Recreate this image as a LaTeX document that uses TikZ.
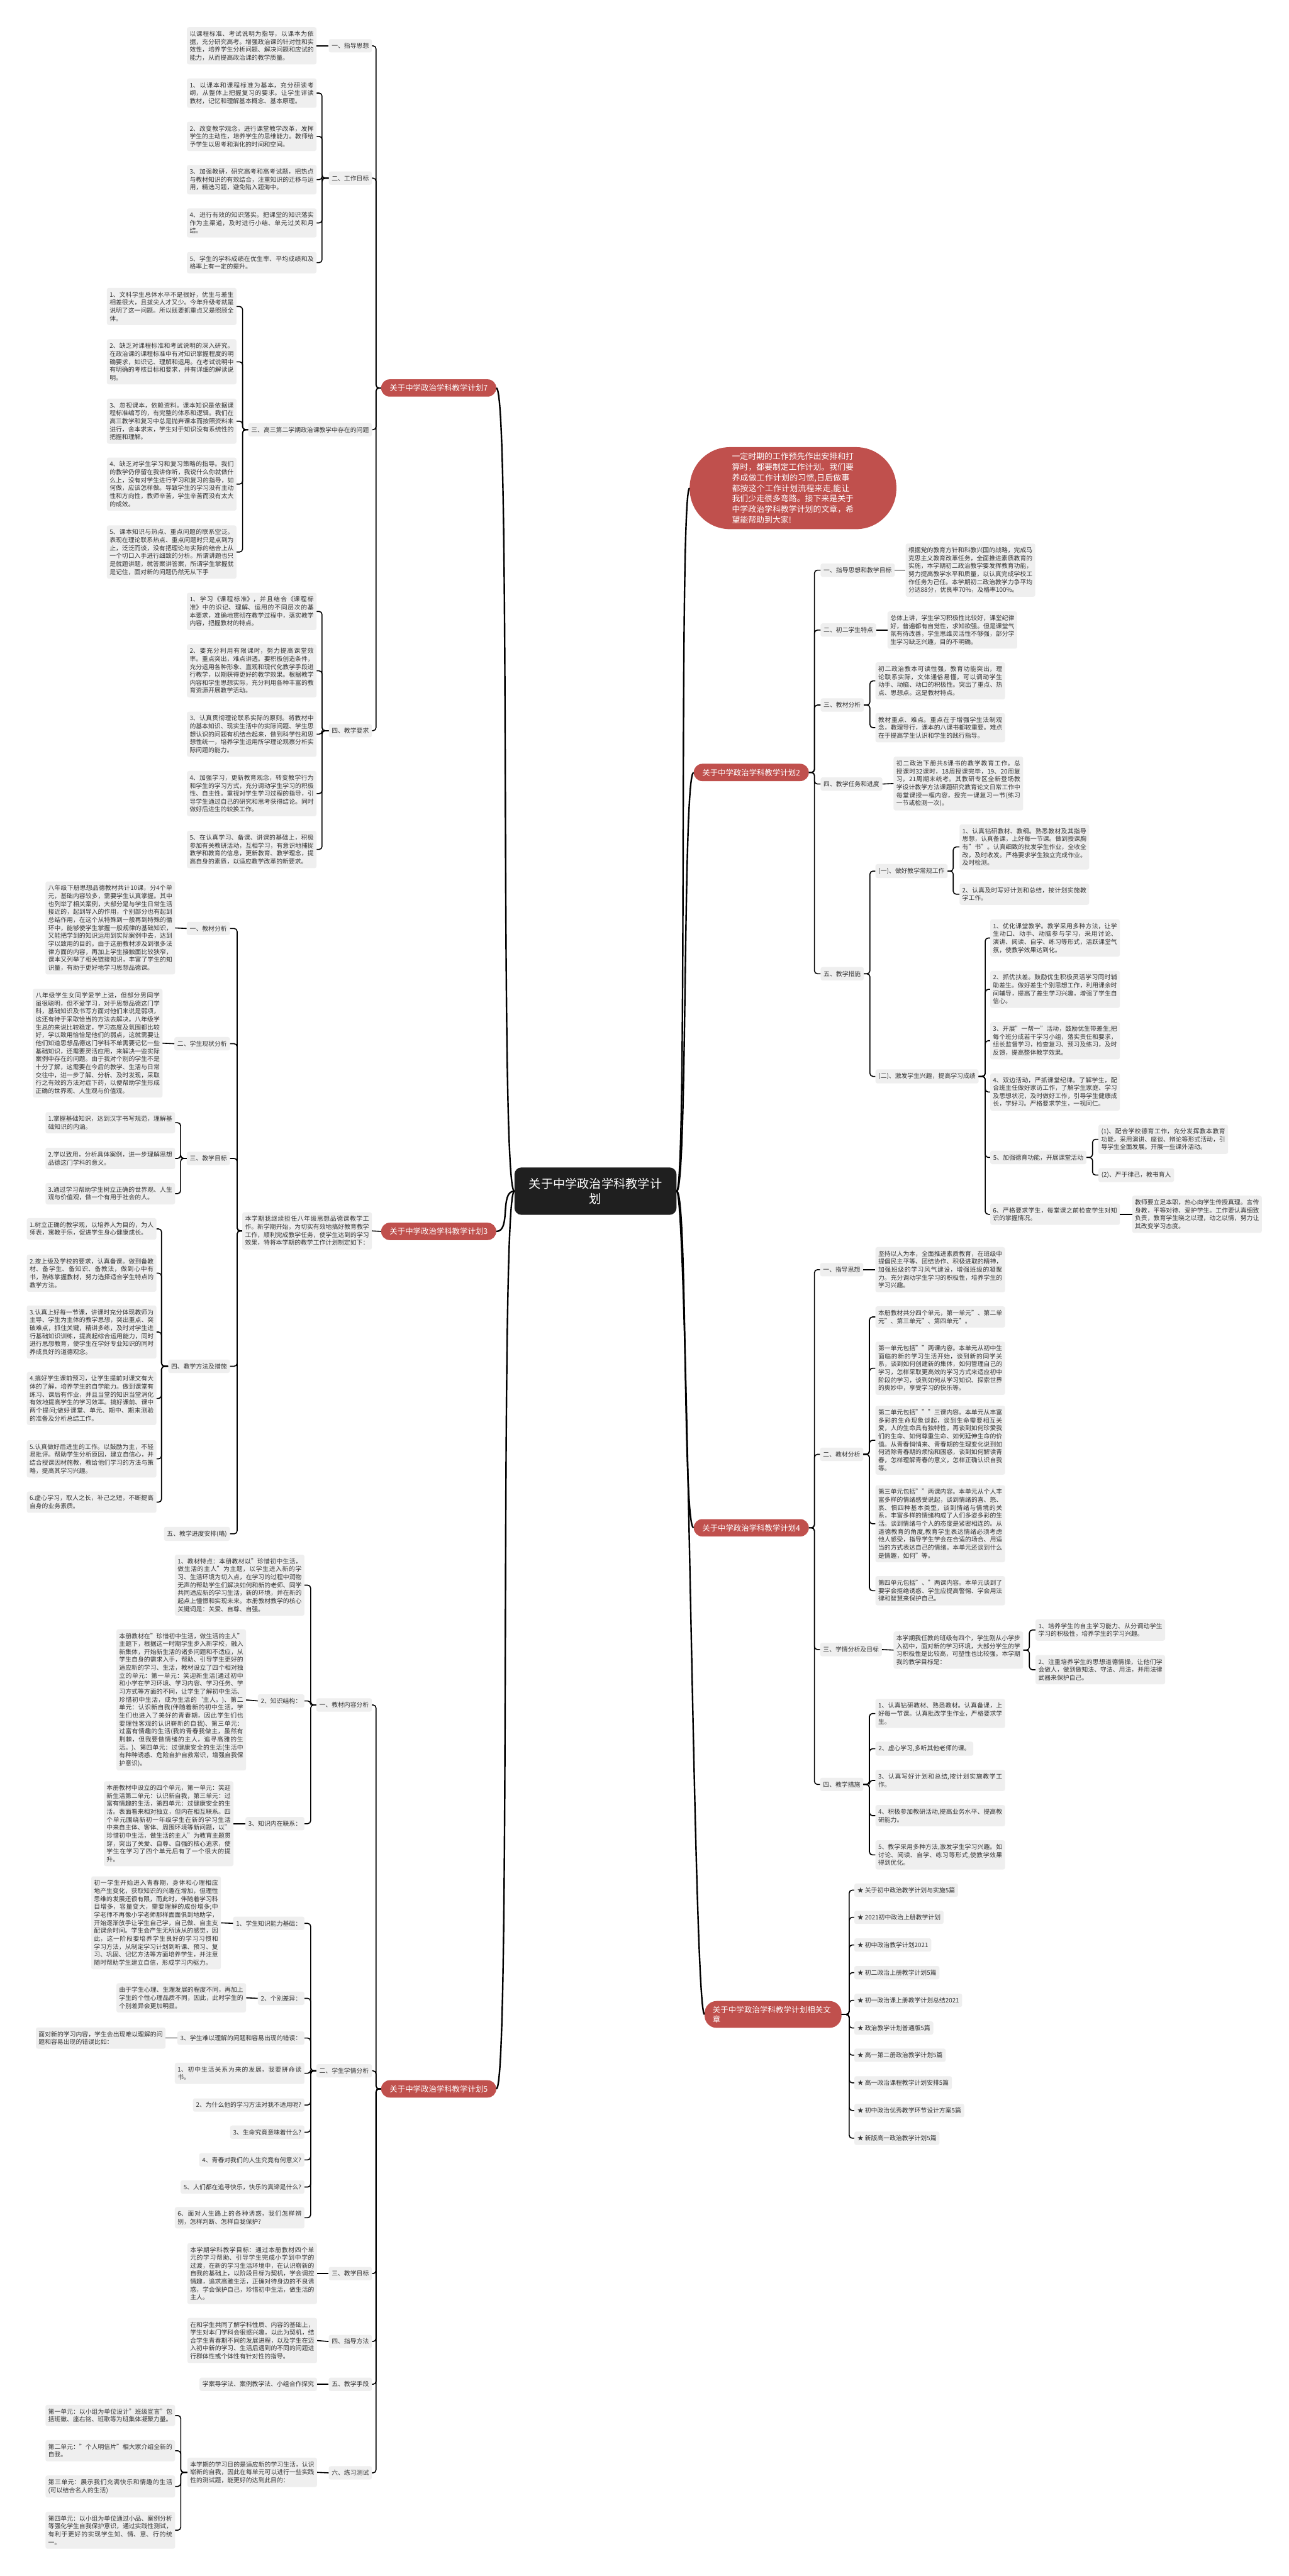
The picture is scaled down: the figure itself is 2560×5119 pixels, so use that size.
\documentclass[tikz,border=0pt]{standalone}
\usepackage{fontspec}
\setmainfont{Noto Sans CJK SC}
\XeTeXlinebreaklocale "zh"
\XeTeXlinebreakskip = 0pt plus 1pt
\definecolor{branchred}{HTML}{C0504D}
\definecolor{nodegray}{HTML}{EFEFEF}
\definecolor{inkgray}{HTML}{333333}
\definecolor{rootblack}{HTML}{1F1F1F}
\newcommand\boxfont{\fontsize{12.3}{15.8}\selectfont}
\newcommand\branchfont{\fontsize{15.5}{19}\selectfont}
\newcommand\leadfont{\fontsize{16.1}{21}\selectfont}
\newcommand\rootfont{\fontsize{24}{30}\selectfont}
\tikzset{
  sec/.style={fill=nodegray,text=inkgray,rounded corners=4pt,inner xsep=6pt,inner ysep=7.5pt,font=\boxfont},
  para/.style={sec,inner xsep=5.5pt,text width=246.5pt,align=justify},
  branch/.style={fill=branchred,text=white,rounded corners=17pt,inner xsep=17pt,inner ysep=10pt,font=\branchfont},
  link/.style={draw=black,line width=2pt,rounded corners=6pt},
  mainlink/.style={draw=black,line width=3pt},
}

\begin{document}
\begin{tikzpicture}[x=1pt,y=-1pt]
\fill[white] (0,0) rectangle (2560,5119);
\useasboundingbox (0,0) rectangle (2560,5119);

% root and lead
\node[fill=rootblack,text=white,rounded corners=14pt,inner xsep=29pt,inner ysep=21pt,font=\rootfont,align=center] (root) at (1183,2367) {关于中学政治学科教学计\\划};
\node[fill=branchred,text=white,rounded corners=80pt,inner xsep=84pt,inner ysep=11pt,font=\leadfont,text width=242.5pt,align=left,anchor=west] (lead) at (1370,970) {一定时期的工作预先作出安排和打算时，都要制定工作计划。我们要养成做工作计划的习惯,日后做事都按这个工作计划流程来走,能让我们少走很多弯路。接下来是关于中学政治学科教学计划的文章，希望能帮助到大家!};

% branch 7
\node[branch,anchor=west] (b7) at (757,771) {关于中学政治学科教学计划7};
\node[sec,anchor=east] (b7s1) at (739,91) {一、指导思想};
\node[para,anchor=east] (b7s1t) at (629,91) {以课程标准、考试说明为指导，以课本为依据，充分研究高考。增强政治课的针对性和实效性，培养学生分析问题、解决问题和应试的能力，从而提高政治课的教学质量。};
\node[sec,anchor=east] (b7s2) at (739,354) {二、工作目标};
\node[para,anchor=east] (b7s2c1) at (629,185) {1、以课本和课程标准为基本，充分研读考纲，从整体上把握复习的要求。让学生详读教材，记忆和理解基本概念、基本原理。};
\node[para,anchor=east] (b7s2c2) at (629,271) {2、改变教学观念，进行课堂教学改革，发挥学生的主动性，培养学生的思维能力。教师给予学生以思考和消化的时间和空间。};
\node[para,anchor=east] (b7s2c3) at (629,357) {3、加强教研，研究高考和高考试题，把热点与教材知识的有效结合，注重知识的迁移与运用，精选习题，避免陷入题海中。};
\node[para,anchor=east] (b7s2c4) at (629,443) {4、进行有效的知识落实。把课堂的知识落实作为主渠道，及时进行小结、单元过关和月结。};
\node[para,anchor=east] (b7s2c5) at (629,522) {5、学生的学科成绩在优生率、平均成绩和及格率上有一定的提升。};
\node[sec,anchor=east] (b7s3) at (739,854) {三、高三第二学期政治课教学中存在的问题};
\node[para,anchor=east] (b7s3c1) at (470,609) {1、文科学生总体水平不是很好，优生与差生相差很大，且拔尖人才又少。今年升级考就是说明了这一问题。所以既要抓重点又是照顾全体。};
\node[para,anchor=east] (b7s3c2) at (470,719) {2、缺乏对课程标准和考试说明的深入研究。在政治课的课程标准中有对知识掌握程度的明确要求，如识记、理解和运用。在考试说明中有明确的考核目标和要求，并有详细的解读说明。};
\node[para,anchor=east] (b7s3c3) at (470,837) {3、忽视课本，依赖资料。课本知识是依据课程标准编写的，有完整的体系和逻辑。我们在高三教学和复习中总是抛弃课本而按照资料来进行，舍本求末，学生对于知识没有系统性的把握和理解。};
\node[para,anchor=east] (b7s3c4) at (470,962) {4、缺乏对学生学习和复习策略的指导。我们的教学仍停留在我讲你听，我说什么你就做什么上，没有对学生进行学习和复习的指导，如何做，应该怎样做。导致学生的学习没有主动性和方向性，教师辛苦，学生辛苦而没有太大的成效。};
\node[para,anchor=east] (b7s3c5) at (470,1097) {5、课本知识与热点、重点问题的联系空泛。表现在理论联系热点、重点问题时只是点到为止，泛泛而谈，没有把理论与实际的结合上从一个切口入手进行细致的分析。所谓讲题也只是就题讲题，就答案讲答案，所谓学生掌握就是记住，面对新的问题仍然无从下手};
\node[sec,anchor=east] (b7s4) at (739,1452) {四、教学要求};
\node[para,anchor=east] (b7s4c1) at (629,1215) {1、学习《课程标准》，并且结合《课程标准》中的识记、理解、运用的不同层次的基本要求，准确地贯彻在教学过程中，落实教学内容，把握教材的特点。};
\node[para,anchor=east] (b7s4c2) at (629,1333) {2、要充分利用有限课时，努力提高课堂效率。重点突出，难点讲透。要积极创造条件，充分运用各种形象、直观和现代化教学手段进行教学，以期获得更好的教学效果。根据教学内容和学生思想实际，充分利用各种丰富的教育资源开展教学活动。};
\node[para,anchor=east] (b7s4c3) at (629,1459) {3、认真贯彻理论联系实际的原则。将教材中的基本知识、现实生活中的实际问题、学生思想认识的问题有机结合起来，做到科学性和思想性统一，培养学生运用所学理论观察分析实际问题的能力。};
\node[para,anchor=east] (b7s4c4) at (629,1577) {4、加强学习，更新教育观念，转变教学行为和学生的学习方式，充分调动学生学习的积极性、自主性。重视对学生学习过程的指导，引导学生通过自己的研究和思考获得结论。同时做好后进生的较换工作。};
\node[para,anchor=east] (b7s4c5) at (629,1688) {5、在认真学习、备课、讲课的基础上，积极参加有关教研活动，互相学习，有意识地捕捉教学和教育的信息，更新教育、教学理念，提高自身的素质，以适应教学改革的新要求。};

% branch 3
\node[branch,anchor=west] (b3) at (757,2447) {关于中学政治学科教学计划3};
\node[para,anchor=east] (b3lead) at (739,2446) {本学期我继续担任八年级思想品德课教学工作。新学期开始，为切实有效地搞好教育教学工作，顺利完成教学任务，使学生达到的学习效果，特将本学期的教学工作计划制定如下：};
\node[sec,anchor=east] (b3s1) at (457,1845) {一、教材分析};
\node[para,anchor=east] (b3s1t) at (348,1844) {八年级下册思想品德教材共计10课，分4个单元，基础内容较多，需要学生认真掌握。其中也列举了相关案例，大部分是与学生日常生活接近的，起到导入的作用，个别部分也有起到总结作用，在这个从特殊到一般再到特殊的循环中，能够使学生掌握一般规律的基础知识，又能把学到的知识运用到实际案例中去，达到学以致用的目的。由于这册教材涉及到很多法律方面的内容，再加上学生接触面比较狭窄，课本又列举了相关链接知识，丰富了学生的知识量，有助于更好地学习思想品德课。};
\node[sec,anchor=east] (b3s2) at (457,2074) {二、学生现状分析};
\node[para,anchor=east] (b3s2t) at (323,2073) {八年级学生女同学爱学上进，但部分男同学虽很聪明，但不爱学习，对于思想品德这门学科，基础知识及书写方面对他们来说是弱项，这还有待于采取恰当的方法去解决。八年级学生总的来说比较稳定，学习态度及氛围都比较好，学以致用恰恰是他们的弱点，这就需要让他们知道思想品德这门学科不单需要记忆一些基础知识，还需要灵活应用，来解决一些实际案例中存在的问题。由于我对个别的学生不是十分了解，这需要在今后的教学、生活与日常交往中，进一步了解、分析、及时发现，采取行之有效的方法对症下药，以便帮助学生形成正确的世界观、人生观与价值观。};
\node[sec,anchor=east] (b3s3) at (457,2302) {三、教学目标};
\node[para,anchor=east] (b3s3c1) at (348,2231) {1.掌握基础知识，达到汉字书写规范，理解基础知识的内涵。};
\node[para,anchor=east] (b3s3c2) at (348,2302) {2.学以致用，分析具体案例，进一步理解思想品德这门学科的意义。};
\node[para,anchor=east] (b3s3c3) at (348,2372) {3.通过学习帮助学生树立正确的世界观、人生观与价值观，做一个有用于社会的人。};
\node[sec,anchor=east] (b3s4) at (457,2715) {四、教学方法及措施};
\node[para,anchor=east] (b3s4c1) at (311,2442) {1.树立正确的教学观，以培养人为目的，为人师表，寓教于乐，促进学生身心健康成长。};
\node[para,anchor=east] (b3s4c2) at (311,2530) {2.按上级及学校的要求，认真备课。做到备教材、备学生、备知识、备教法，做到心中有书，熟练掌握教材，努力选择适合学生特点的教学方法。};
\node[para,anchor=east] (b3s4c3) at (311,2647) {3.认真上好每一节课，讲课时充分体现教师为主导、学生为主体的教学思想，突出重点、突破难点，抓住关键，精讲多练，及时对学生进行基础知识训练，提高起综合运用能力，同时进行思想教育，使学生在学好专业知识的同时养成良好的道德观念。};
\node[para,anchor=east] (b3s4c4) at (311,2779) {4.搞好学生课前预习，让学生提前对课文有大体的了解，培养学生的自学能力。做到课堂有练习、课后有作业，并且当堂的知识当堂消化有效地提高学生的学习效率。搞好课前、课中两个提问;做好课堂、单元、期中、期末测验的准备及分析总结工作。};
\node[para,anchor=east] (b3s4c5) at (311,2899) {5.认真做好后进生的工作。以鼓励为主，不轻易批评。帮助学生分析原因，建立自信心，并结合授课因材施教，教给他们学习的方法与策略，提高其学习兴趣。};
\node[para,anchor=east] (b3s4c6) at (311,2985) {6.虚心学习，取人之长，补己之短，不断提高自身的业务素质。};
\node[sec,anchor=east] (b3s5) at (457,3048) {五、教学进度安排(略)};

% branch 5
\node[branch,anchor=west] (b5) at (757,4151) {关于中学政治学科教学计划5};
\node[sec,anchor=east] (b5s1) at (739,3388) {一、教材内容分析};
\node[para,anchor=east] (b5s1c1) at (605,3150) {1、教材特点：本册教材以"珍惜初中生活，做生活的主人"为主题，以学生进入新的学习、生活环境为切入点，在学习的过程中润物无声的帮助学生们解决如何和新的老师、同学共同适应新的学习生活，新的环境，并在新的起点上憧憬和实现未来。本册教材教学的核心关键词是：关爱、自尊、自强。};
\node[sec,anchor=east] (b5s1c2) at (605,3380) {2、知识结构：};
\node[para,anchor=east] (b5s1c2t) at (489,3378) {本册教材在"珍惜初中生活，做生活的主人"主题下，根据这一时期学生步入新学校，融入新集体，开始新生活的诸多问题和不适应，从学生自身的需求入手，帮助、引导学生更好的适应新的学习、生活，教材设立了四个相对独立的单元：第一单元：笑迎新生活(通过初中和小学在学习环境、学习内容、学习任务、学习方式等方面的不同，让学生了解初中生活、珍惜初中生活，成为生活的\symbol{96}主人。)、第二单元：认识新自我(伴随着新的初中生活，学生们也进入了美好的青春期，因此学生们也要理性客观的认识崭新的自我)、第三单元：过富有情趣的生活(我的青春我做主，虽然有荆棘，但我要做情绪的主人，追寻高雅的生活。)、第四单元：过健康安全的生活(生活中有种种诱惑、危险自护自救常识，增强自我保护意识)。};
\node[sec,anchor=east] (b5s1c3) at (605,3624) {3、知识内在联系：};
\node[para,anchor=east] (b5s1c3t) at (464,3624) {本册教材中设立的四个单元，第一单元：笑迎新生活第二单元：认识新自我，第三单元：过富有情趣的生活，第四单元：过健康安全的生活。表面看来相对独立，但内在相互联系。四个单元围绕新初一年级学生在新的学习生活中来自主体、客体、周围环境等新问题，以"珍惜初中生活，做生活的主人"为教育主题贯穿，突出了关爱、自尊、自强的核心追求，使学生在学习了四个单元后有了一个很大的提升。};
\node[sec,anchor=east] (b5s2) at (739,4115) {二、学生学情分析};
\node[sec,anchor=east] (b5s2c1) at (605,3822) {1、学生知识能力基础：};
\node[para,anchor=east] (b5s2c1t) at (439,3821) {初一学生开始进入青春期，身体和心理相应地产生变化，获取知识的兴趣在增加，但理性思维的发展还很有限，而此时，伴随着学习科目增多，容量变大，需要理解的成份增多;中学老师不再像小学老师那样面面俱到地助学，开始逐渐放手让学生自己学，自己做、自主支配课余时间。学生会产生无所适从的感觉，因此，这一阶段要培养学生良好的学习习惯和学习方法，从制定学习计划到听课、预习、复习、巩固、记忆方法等方面培养学生，并注意随时帮助学生建立自信，形成学习内驱力。};
\node[sec,anchor=east] (b5s2c2) at (605,3971) {2、个别差异：};
\node[para,anchor=east] (b5s2c2t) at (489,3970) {由于学生心理、生理发展的程度不同，再加上学生的个性心理品质不同，因此，此时学生的个别差异会更加明显。};
\node[sec,anchor=east] (b5s2c3) at (605,4050) {3、学生难以理解的问题和容易出现的错误：};
\node[para,anchor=east] (b5s2c3t) at (329,4050) {面对新的学习内容，学生会出现难以理解的问题和容易出现的错误比如：};
\node[para,anchor=east] (b5s2c4) at (605,4120) {1、初中生活关系为来的发展，我要拼命读书。};
\node[sec,anchor=east] (b5s2c5) at (605,4183) {2、为什么他的学习方法对我不适用呢?};
\node[sec,anchor=east] (b5s2c6) at (605,4237) {3、生命究竟意味着什么?};
\node[sec,anchor=east] (b5s2c7) at (605,4292) {4、青春对我们的人生究竟有何意义?};
\node[sec,anchor=east] (b5s2c8) at (605,4346) {5、人们都在追寻快乐，快乐的真谛是什么?};
\node[para,anchor=east] (b5s2c9) at (605,4407) {6、面对人生路上的各种诱惑，我们怎样辨别，怎样判断、怎样自我保护?};
\node[sec,anchor=east] (b5s3) at (739,4518) {三、教学目标};
\node[para,anchor=east] (b5s3t) at (630,4518) {本学期学科教学目标：通过本册教材四个单元的学习帮助、引导学生完成小学到中学的过渡，在新的学习生活环境中，在认识崭新的自我的基础上，以阶段目标为契机，学会调控情趣，追求高雅生活，正确对待身边的不良诱惑，学会保护自己，珍惜初中生活，做生活的主人。};
\node[sec,anchor=east] (b5s4) at (739,4653) {四、指导方法};
\node[para,anchor=east] (b5s4t) at (630,4651) {在和学生共同了解学科性质、内容的基础上，学生对本门学科会很感兴趣，以此为契机，结合学生青春期不同的发展进程，以及学生在迈入初中新的学习、生活后遇到的不同的问题进行群体性或个体性有针对性的指导。};
\node[sec,anchor=east] (b5s5) at (739,4738) {五、教学手段};
\node[sec,anchor=east] (b5s5t) at (630,4738) {学案导学法、案例教学法、小组合作探究};
\node[sec,anchor=east] (b5s6) at (739,4914) {六、练习测试};
\node[para,anchor=east] (b5s6t) at (630,4913) {本学期的学习目的是适应新的学习生活，认识崭新的自我，因此在每单元可以进行一些实践性的测试题，能更好的达到此目的：};
\node[para,anchor=east] (b5s6c1) at (348,4800) {第一单元：以小组为单位设计"班级宣言"包括班徽、座右铭、班歌等为班集体凝聚力量。};
\node[para,anchor=east] (b5s6c2) at (348,4870) {第二单元："个人明信片"相大家介绍全新的自我。};
\node[para,anchor=east] (b5s6c3) at (348,4941) {第三单元：展示我们充满快乐和情趣的生活(可以结合名人的生活)};
\node[para,anchor=east] (b5s6c4) at (348,5028) {第四单元：以小组为单位通过小品、案例分析等强化学生自我保护意识，通过实践性测试，有利于更好的实现学生知、情、意、行的统一。};

% branch 2
\node[branch,anchor=east] (b2) at (1607,1535) {关于中学政治学科教学计划2};
\node[sec,anchor=west] (b2s1) at (1630,1133) {一、指导思想和教学目标};
\node[para,anchor=west] (b2s1t) at (1799,1133) {根据党的教育方针和科教兴国的战略，完成马克思主义教育改革任务，全面推进素质教育的实施，本学期初二政治教学要发挥教育功能，努力提高教学水平和质量，以认真完成学校工作任务为己任。本学期初二政治教学力争平均分达88分，优良率70\%，及格率100\%。};
\node[sec,anchor=west] (b2s2) at (1630,1252) {二、初二学生特点};
\node[para,anchor=west] (b2s2t) at (1763,1252) {总体上讲，学生学习积极性比较好，课堂纪律好，普遍都有自觉性，求知欲强。但是课堂气氛有待改善，学生思维灵活性不够强，部分学生学习缺乏兴趣，目的不明确。};
\node[sec,anchor=west] (b2s3) at (1630,1401) {三、教材分析};
\node[para,anchor=west] (b2s3c1) at (1739,1353) {初二政治教本可读性强，教育功能突出，理论联系实际，文体通俗易懂，可以调动学生动手、动脑、动口的积极性。突出了重点、热点、思想点。这是教材特点。};
\node[para,anchor=west] (b2s3c2) at (1739,1446) {教材重点、难点。重点在于增强学生法制观念，教理导行，课本的八课书都较重要。难点在于提高学生认识和学生的践行指导。};
\node[sec,anchor=west] (b2s4) at (1630,1558) {四、教学任务和进度};
\node[para,anchor=west] (b2s4t) at (1775,1557) {初二政治下册共8课书的教学教育工作。总授课时32课时，18周授课完毕，19、20周复习，21周期末统考。其教研专区全新登场教学设计教学方法课题研究教育论文日常工作中每堂课授一框内容，授完一课复习一节(练习一节或检测一次)。};
\node[sec,anchor=west] (b2s5) at (1630,1935) {五、教学措施};
\node[sec,anchor=west] (b2s5a) at (1739,1731) {(一)、做好教学常规工作};
\node[para,anchor=west] (b2s5a1) at (1906,1683) {1、认真钻研教材、教纲。熟悉教材及其指导思想，认真备课，上好每一节课。做到授课胸有"书"。认真细致的批发学生作业，全收全改，及时收发。严格要求学生独立完成作业。及时检测。};
\node[para,anchor=west] (b2s5a2) at (1906,1777) {2、认真及时写好计划和总结，按计划实施教学工作。};
\node[sec,anchor=west] (b2s5b) at (1739,2139) {(二)、激发学生兴趣，提高学习成绩};
\node[para,anchor=west] (b2s5b1) at (1967,1864) {1、优化课堂教学。教学采用多种方法，让学生动口、动手、动脑参与学习，采用讨论、演讲、阅读、自学、练习等形式，活跃课堂气氛，使教学效果达到化。};
\node[para,anchor=west] (b2s5b2) at (1967,1966) {2、抓优扶差。鼓励优生积极灵活学习同时辅助差生。做好差生个别思想工作，利用课余时间辅导，提高了差生学习兴趣，增强了学生自信心。};
\node[para,anchor=west] (b2s5b3) at (1967,2068) {3、开展"一帮一"活动，鼓励优生带差生;把每个班分成若干学习小组，落实责任和要求，组长监督学习，检查复习、预习及练习，及时反馈，提高整体教学效果。};
\node[para,anchor=west] (b2s5b4) at (1967,2170) {4、双边活动，严抓课堂纪律。了解学生，配合班主任做好家访工作，了解学生家庭、学习及思想状况，及时做好工作，引导学生健康成长，学好习。严格要求学生，一视同仁。};
\node[sec,anchor=west] (b2s5b5) at (1967,2300) {5、加强德育功能，开展课堂活动};
\node[para,anchor=west] (b2s5b5x) at (2182,2264) {(1)、配合学校德育工作，充分发挥教本教育功能，采用演讲、座谈、辩论等形式活动，引导学生全面发展。开展一些课外活动。};
\node[sec,anchor=west] (b2s5b5y) at (2182,2335) {(2)、严于律己，教书育人};
\node[para,anchor=west] (b2s5b6) at (1967,2413) {6、严格要求学生，每堂课之前检查学生对知识的掌握情况。};
\node[para,anchor=west] (b2s5b6x) at (2249,2413) {教师要立足本职，热心向学生传授真理。言传身教，平等对待、爱护学生。工作要认真细致负责，教育学生晓之以理，动之以情，努力让其改变学习态度。};

% branch 4
\node[branch,anchor=east] (b4) at (1607,3036) {关于中学政治学科教学计划4};
\node[sec,anchor=west] (b4s1) at (1629,2523) {一、指导思想};
\node[para,anchor=west] (b4s1t) at (1739,2523) {坚持以人为本，全面推进素质教育，在班级中提倡民主平等、团结协作、积极进取的精神，加强班级的学习风气建设，增强班级的凝聚力。充分调动学生学习的积极性，培养学生的学习兴趣。};
\node[sec,anchor=west] (b4s2) at (1629,2890) {二、教材分析};
\node[para,anchor=west] (b4s2c1) at (1739,2617) {本册教材共分四个单元，第一单元"、第二单元"、第三单元"、第四单元"。};
\node[para,anchor=west] (b4s2c2) at (1739,2719) {第一单元包括""两课内容。本单元从初中生面临的新的学习生活开始，谈到新的同学关系，谈到如何创建新的集体，如何管理自己的学习，怎样采取更高效的学习方式来适应初中阶段的学习，谈到如何从学习知识、探索世界的奥妙中，享受学习的快乐等。};
\node[para,anchor=west] (b4s2c3) at (1739,2862) {第二单元包括"""三课内容。本单元从丰富多彩的生命现象谈起，谈到生命需要相互关爱，人的生命具有独特性，再谈到如何珍爱我们的生命、如何尊重生命、如何延伸生命的价值。从青春悄悄来、青春期的生理变化说到如何消除青春期的烦恼和困惑，谈到如何解读青春，怎样理解青春的意义，怎样正确认识自我等。};
\node[para,anchor=west] (b4s2c4) at (1739,3028) {第三单元包括""两课内容。本单元从个人丰富多样的情绪感受说起，谈到情绪的喜、怒、哀、惧四种基本类型，谈到情绪与情境的关系，丰富多样的情绪构成了人们多姿多彩的生活。谈到情绪与个人的态度是紧密相连的。从道德教育的角度,教育学生表达情绪必须考虑他人感受，指导学生学会在合适的场合、用适当的方式表达自己的情绪。本单元还谈到什么是情趣，如何"等。};
\node[para,anchor=west] (b4s2c5) at (1739,3161) {第四单元包括"、"两课内容。本单元谈到了要学会拒绝诱惑、学生应提高警惕、学会用法律和智慧来保护自己。};
\node[sec,anchor=west] (b4s3) at (1629,3278) {三、学情分析及目标};
\node[para,anchor=west] (b4s3t) at (1775,3279) {本学期我任教的班级有四个，学生刚从小学步入初中，面对新的学习环境，大部分学生的学习积极性是比较高，可塑性也比较强。本学期我的教学目标是：};
\node[para,anchor=west] (b4s3c1) at (2057,3239) {1、培养学生的自主学习能力、从分调动学生学习的积极性，培养学生的学习兴趣。};
\node[para,anchor=west] (b4s3c2) at (2057,3318) {2、注重培养学生的思想道德情操，让他们学会做人，做到做知法、守法、用法，并用法律武器来保护自己。};
\node[sec,anchor=west] (b4s4) at (1629,3546) {四、教学措施};
\node[para,anchor=west] (b4s4c1) at (1739,3405) {1、认真钻研教材、熟悉教材。认真备课，上好每一节课。认真批改学生作业，严格要求学生。};
\node[sec,anchor=west] (b4s4c2) at (1739,3475) {2、虚心学习,多听其他老师的课。};
\node[para,anchor=west] (b4s4c3) at (1739,3538) {3、认真写好计划和总结,按计划实施教学工作。};
\node[para,anchor=west] (b4s4c4) at (1739,3608) {4、积极参加教研活动,提高业务水平、提高教研能力。};
\node[para,anchor=west] (b4s4c5) at (1739,3686) {5、教学采用多种方法,激发学生学习兴趣。如讨论、阅读、自学、练习等形式,使教学效果得到优化。};

% related articles
\node[branch,anchor=east,text width=240pt,align=left,inner xsep=16pt,rounded corners=24pt] (brel) at (1672,4003) {关于中学政治学科教学计划相关文章};
\node[sec,anchor=west] (brel1) at (1697,3756) {★ 关于初中政治教学计划与实施5篇};
\node[sec,anchor=west] (brel2) at (1697,3810) {★ 2021初中政治上册教学计划};
\node[sec,anchor=west] (brel3) at (1697,3865) {★ 初中政治教学计划2021};
\node[sec,anchor=west] (brel4) at (1697,3920) {★ 初二政治上册教学计划5篇};
\node[sec,anchor=west] (brel5) at (1697,3975) {★ 初一政治课上册教学计划总结2021};
\node[sec,anchor=west] (brel6) at (1697,4030) {★ 政治教学计划普通版5篇};
\node[sec,anchor=west] (brel7) at (1697,4084) {★ 高一第二册政治教学计划5篇};
\node[sec,anchor=west] (brel8) at (1697,4139) {★ 高一政治课程教学计划安排5篇};
\node[sec,anchor=west] (brel9) at (1697,4194) {★ 初中政治优秀教学环节设计方案5篇};
\node[sec,anchor=west] (brel10) at (1697,4249) {★ 新版高一政治教学计划5篇};

% root links
\foreach \b in {b7,b3,b5}
  \draw[mainlink] (root.west) .. controls +(-30,0) and +(30,0) .. (\b.east);
\foreach \b in {lead,b2,b4,brel}
  \draw[mainlink] (root.east) .. controls +(22,0) and +(-22,0) .. (\b.west);

% links of branch 7
\foreach \s in {1,...,4} \draw[link] (b7.west) -- ++(-10,0) |- (b7s\s.east);
\draw[link] (b7s1.west) -- (b7s1t.east);
\foreach \c in {1,...,5} \draw[link] (b7s2.west) -- ++(-13,0) |- (b7s2c\c.east);
\foreach \c in {1,...,5} \draw[link] (b7s3.west) -- ++(-11,0) |- (b7s3c\c.east);
\foreach \c in {1,...,5} \draw[link] (b7s4.west) -- ++(-13,0) |- (b7s4c\c.east);

% links of branch 3
\draw[link] (b3.west) -- (b3lead.east);
\foreach \s in {1,...,5} \draw[link] (b3lead.west) -- ++(-10,0) |- (b3s\s.east);
\draw[link] (b3s1.west) -- (b3s1t.east);
\draw[link] (b3s2.west) -- (b3s2t.east);
\foreach \c in {1,2,3} \draw[link] (b3s3.west) -- ++(-12,0) |- (b3s3c\c.east);
\foreach \c in {1,...,6} \draw[link] (b3s4.west) -- ++(-13,0) |- (b3s4c\c.east);

% links of branch 5
\foreach \s in {1,...,6} \draw[link] (b5.west) -- ++(-10,0) |- (b5s\s.east);
\foreach \c in {1,2,3} \draw[link] (b5s1.west) -- ++(-11,0) |- (b5s1c\c.east);
\draw[link] (b5s1c2.west) -- (b5s1c2t.east);
\draw[link] (b5s1c3.west) -- (b5s1c3t.east);
\foreach \c in {1,...,9} \draw[link] (b5s2.west) -- ++(-11,0) |- (b5s2c\c.east);
\draw[link] (b5s2c1.west) -- (b5s2c1t.east);
\draw[link] (b5s2c2.west) -- (b5s2c2t.east);
\draw[link] (b5s2c3.west) -- (b5s2c3t.east);
\draw[link] (b5s3.west) -- (b5s3t.east);
\draw[link] (b5s4.west) -- (b5s4t.east);
\draw[link] (b5s5.west) -- (b5s5t.east);
\draw[link] (b5s6.west) -- (b5s6t.east);
\foreach \c in {1,...,4} \draw[link] (b5s6t.west) -- ++(-13,0) |- (b5s6c\c.east);

% links of branch 2
\foreach \s in {1,...,5} \draw[link] (b2.east) -- ++(11,0) |- (b2s\s.west);
\draw[link] (b2s1.east) -- (b2s1t.west);
\draw[link] (b2s2.east) -- (b2s2t.west);
\foreach \c in {1,2} \draw[link] (b2s3.east) -- ++(12,0) |- (b2s3c\c.west);
\draw[link] (b2s4.east) -- (b2s4t.west);
\foreach \c in {a,b} \draw[link] (b2s5.east) -- ++(12,0) |- (b2s5\c.west);
\foreach \c in {1,2} \draw[link] (b2s5a.east) -- ++(11,0) |- (b2s5a\c.west);
\foreach \c in {1,...,6} \draw[link] (b2s5b.east) -- ++(13,0) |- (b2s5b\c.west);
\foreach \c in {x,y} \draw[link] (b2s5b5.east) -- ++(12,0) |- (b2s5b5\c.west);
\draw[link] (b2s5b6.east) -- (b2s5b6x.west);

% links of branch 4
\foreach \s in {1,...,4} \draw[link] (b4.east) -- ++(11,0) |- (b4s\s.west);
\draw[link] (b4s1.east) -- (b4s1t.west);
\foreach \c in {1,...,5} \draw[link] (b4s2.east) -- ++(12,0) |- (b4s2c\c.west);
\draw[link] (b4s3.east) -- (b4s3t.west);
\foreach \c in {1,2} \draw[link] (b4s3t.east) -- ++(12,0) |- (b4s3c\c.west);
\foreach \c in {1,...,5} \draw[link] (b4s4.east) -- ++(12,0) |- (b4s4c\c.west);

% links of related articles
\foreach \c in {1,...,10} \draw[link] (brel.east) -- ++(15,0) |- (brel\c.west);
\end{tikzpicture}
\end{document}
